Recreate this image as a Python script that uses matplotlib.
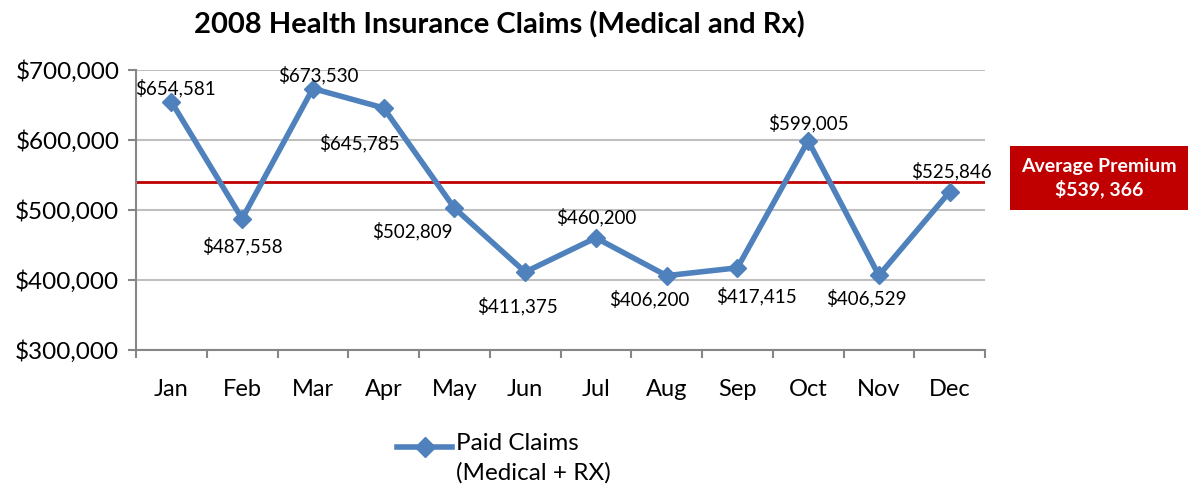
import numpy as np
import matplotlib
matplotlib.use("Agg")
import matplotlib.pyplot as plt
from matplotlib.ticker import FuncFormatter
from matplotlib.lines import Line2D

plt.rcParams['font.family'] = ['Lato', 'DejaVu Sans']

# data
months = ['Jan', 'Feb', 'Mar', 'Apr', 'May', 'Jun', 'Jul', 'Aug', 'Sep', 'Oct', 'Nov', 'Dec']
paid_claims = [654581, 487558, 673530, 645785, 502809, 411375, 460200, 406200, 417415, 599005, 406529, 525846]
avg_premium = 539366
premium_label = 'Average Premium\n$539, 366'
series_label = 'Paid Claims\n(Medical + RX)'

# label offsets in pixels (dx, dy) relative to each marker
label_offsets = [(4, 14), (0, -27), (5, 13), (-24, -35), (-42, -23), (-8, -34),
                 (0, 21), (-17, -23), (19, -28), (0, 18), (-13, -23), (2, 21)]

blue = '#4F81BD'
red = '#C00000'
grey = '#868686'

fig = plt.figure(figsize=(12, 4.9), dpi=100)
ax = fig.add_axes([136/1200, 1-350/490, (985-136)/1200, 280/490])

x = np.arange(len(months))
ax.plot(x, paid_claims, color=blue, lw=4, marker='D', ms=9, zorder=3,
        solid_joinstyle='miter')
ax.axhline(avg_premium, color=red, lw=2, zorder=2)

for i, v in enumerate(paid_claims):
    dx, dy = label_offsets[i]
    ax.annotate('${:,.0f}'.format(v), (x[i], v), xytext=(dx, dy),
                textcoords='offset pixels', ha='center', va='center',
                fontsize=13.5, color='black', zorder=4)

ax.set_xlim(-0.5, 11.5)
ax.set_ylim(300000, 700000)
ax.set_yticks(np.arange(300000, 700001, 100000))
ax.yaxis.set_major_formatter(FuncFormatter(lambda v, p: '${:,.0f}'.format(v)))
ax.set_xticks(x)
ax.set_xticklabels(months)
ax.set_xticks(np.arange(-0.5, 12, 1), minor=True)
ax.tick_params(axis='x', which='major', length=0, pad=21, labelsize=17)
ax.tick_params(axis='x', which='minor', length=6, color=grey, width=1.5)
ax.tick_params(axis='y', length=6, color=grey, width=1.5, labelsize=17.5, pad=6)

ax.grid(axis='y', color='#BFBFBF', lw=1.5)
ax.set_axisbelow(True)
for s in ['top', 'right']:
    ax.spines[s].set_visible(False)
for s in ['left', 'bottom']:
    ax.spines[s].set_color(grey)
    ax.spines[s].set_linewidth(1.5)

fig.text(499/1200, 1-25/490, '2008 Health Insurance Claims (Medical and Rx)',
         ha='center', va='center', fontsize=21, fontweight='bold')

# premium box
fig.text(1099/1200, 1-178/490, premium_label, ha='center', va='center',
         fontsize=14, fontweight='bold', color='white', linespacing=1.25,
         bbox=dict(boxstyle='square,pad=0.6', fc=red, ec='none'))

# legend (drawn by hand so the key sits on the first text line)
ly = 1-447/490
fig.add_artist(Line2D([397/1200, 452/1200], [ly, ly], color=blue, lw=4,
                      transform=fig.transFigure))
fig.add_artist(Line2D([424.5/1200], [ly], color=blue, marker='D', ms=10,
                      transform=fig.transFigure))
fig.text(456/1200, 1-433/490, series_label, ha='left', va='top',
         fontsize=17.5, linespacing=1.45)

fig.savefig('out.png', dpi=100)
